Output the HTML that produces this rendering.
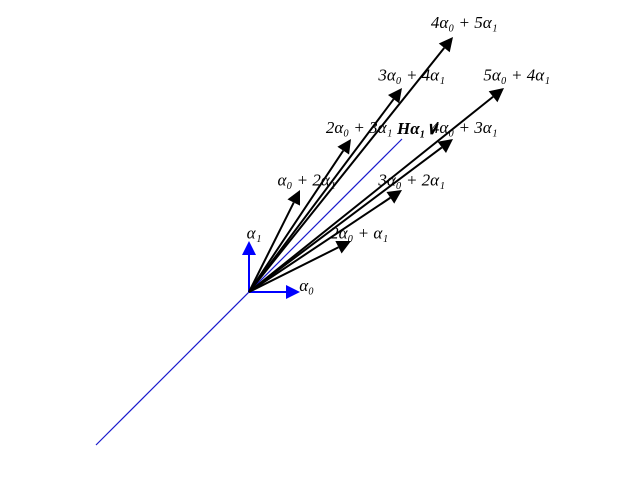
<!DOCTYPE html>
<html><head><meta charset="utf-8"><style>body{margin:0;background:#fff}svg{display:block}text{font-family:"Liberation Serif",serif;font-style:italic;font-size:17px}</style></head>
<body>
<svg id="c" width="640" height="480">
</svg>
<script>
const coefA = [1,0,2,1,3,2,3,4,4,5];
const coefB = [0,1,1,2,2,3,4,3,5,4];
const labels = ["α₀","α₁","2α₀ + α₁","α₀ + 2α₁","3α₀ + 2α₁","2α₀ + 3α₁","3α₀ + 4α₁","4α₀ + 3α₁","4α₀ + 5α₁","5α₀ + 4α₁"];
const simple = [true,true,false,false,false,false,false,false,false,false];
const hyperRange = [-3,3];
const svg=document.getElementById('c'),NS='http://www.w3.org/2000/svg';
const U=51,OX=249,OY=292;
const sx=a=>OX+a*U, sy=b=>OY-b*U;
function mk(t,at){const e=document.createElementNS(NS,t);for(const k in at)e.setAttribute(k,at[k]);svg.appendChild(e);return e;}
const h=mk('line',{x1:sx(hyperRange[0]),y1:sy(hyperRange[0]),x2:sx(hyperRange[1]),y2:sy(hyperRange[1]),stroke:'#1a1acc','stroke-width':1.2});


coefA.forEach((a,i)=>{
 const b=coefB[i];const col=simple[i]?'#0000ff':'#000';
 const x2=sx(a),y2=sy(b);const L=Math.hypot(x2-OX,y2-OY);const ux=(x2-OX)/L,uy=(y2-OY)/L;const hl=14,hw=7;
 const g=mk('g',{});
 
 
 const ln=document.createElementNS(NS,'line');
 const bx=x2-ux*hl,by=y2-uy*hl;
 ln.setAttribute('x1',OX);ln.setAttribute('y1',OY);ln.setAttribute('x2',bx);ln.setAttribute('y2',by);ln.setAttribute('stroke',col);ln.setAttribute('stroke-width',2);
 g.appendChild(ln);
 const p=document.createElementNS(NS,'polygon');
 p.setAttribute('points',`${x2},${y2} ${bx-uy*hw},${by+ux*hw} ${bx+uy*hw},${by-ux*hw}`);p.setAttribute('fill',col);
 g.appendChild(p);svg.appendChild(g);
 const t=mk('text',{x:sx(a*1.03+0.1),y:sy(b*1.03+0.1),'text-anchor':'middle','dominant-baseline':'middle'});
 t.textContent=labels[i];
 
 
});
const ht=mk('text',{x:397,y:134,'font-weight':'bold','font-size':'14'});ht.textContent='Hα₁∨';


</script>
</body></html>
